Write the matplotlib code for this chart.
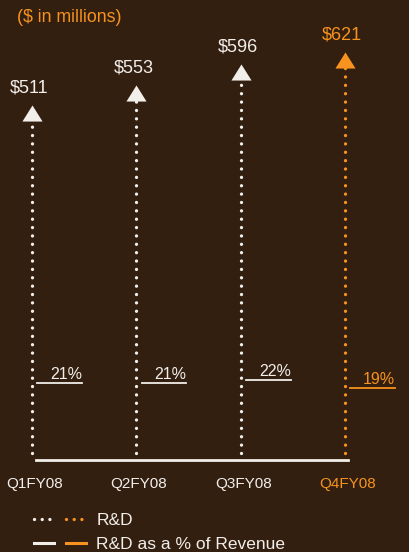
import matplotlib.pyplot as plt
from matplotlib.legend_handler import HandlerTuple
from matplotlib.lines import Line2D

quarters = ['Q1FY08', 'Q2FY08', 'Q3FY08', 'Q4FY08']
rnd = [511, 553, 596, 621]          # R&D, $ millions
pct = [21, 21, 22, 19]              # R&D as % of revenue

bg = '#321f10'
white = '#f2eeea'
orange = '#f7931e'
colors = [white, white, white, orange]

plt.rcParams['font.family'] = ['Liberation Sans', 'DejaVu Sans']

fig = plt.figure(figsize=(4.1, 5.52), dpi=100, facecolor=bg)
W, H = 410, 552
ax = fig.add_axes([36 / W, (H - 460) / H, (348 - 36) / W, (460 - 20) / H])
ax.set_facecolor('none')
ax2 = ax.twinx()

xlim = (0.038, 3.03)
ylim = (-207.6, 704.1)
ax.set_xlim(xlim)
ax.set_ylim(ylim)
ax2.set_ylim(-7.3, 154.5)

for a in (ax, ax2):
    for s in a.spines.values():
        s.set_visible(False)
    a.set_yticks([])
ax.set_xticks([])

ax.spines['bottom'].set_visible(True)
ax.spines['bottom'].set_color(white)
ax.spines['bottom'].set_linewidth(2)

tri = [(0, 0.8), (-1, -0.8), (1, -0.8)]
y0 = ylim[0] + 14
for i, (v, c) in enumerate(zip(rnd, colors)):
    ax.plot([i, i], [y0, v], color=c, lw=2.4, linestyle=(0, (0.01, 2.5)),
            dash_capstyle='round', clip_on=False, zorder=2)
    ax.plot(i, v, marker=tri, ms=14.5, color=c, mec='none', clip_on=False, zorder=3)
    ax.annotate(f'${v}', (i, v), xytext=(-2, 18), textcoords='offset points',
                ha='center', va='center', color=c, fontsize=13,
                annotation_clip=False)

for i, (p, c) in enumerate(zip(pct, colors)):
    ax2.plot([i + 0.05, i + 0.48], [p, p], color=c, lw=1.3, clip_on=False)
    ax2.annotate(f'{p}%', (i + 0.48, p), xytext=(0, 6.5), textcoords='offset points',
                 ha='right', va='center', color=c, fontsize=11.5,
                 annotation_clip=False)

# quarter labels under the baseline
for i, (q, c) in enumerate(zip(quarters, colors)):
    ax.annotate(q, (i, 0), xycoords=('data', 'axes fraction'),
                xytext=(2, -17), textcoords='offset points',
                ha='center', va='center', color=c, fontsize=11,
                annotation_clip=False)

# re-apply limits after all plotting
ax.set_xlim(xlim)
ax.set_ylim(ylim)

fig.text(17 / W, 1 - 17 / H, '($ in millions)', color=orange, fontsize=12.8,
         ha='left', va='center')

dot_kw = dict(lw=2.4, linestyle=(0, (0.01, 2.3)), dash_capstyle='round')
h1 = (Line2D([], [], color=white, **dot_kw), Line2D([], [], color=orange, **dot_kw))
h2 = (Line2D([], [], color=white, lw=2.2), Line2D([], [], color=orange, lw=2.2))
leg = fig.legend([h1, h2], ['R&D', 'R&D as a % of Revenue'],
                 handler_map={tuple: HandlerTuple(ndivide=None, pad=0.7)},
                 loc='upper left', bbox_to_anchor=(25 / W, 1 - 504 / H),
                 frameon=False, fontsize=12.5, handlelength=3.0,
                 handletextpad=0.6, labelspacing=0.5, borderpad=0)
for t in leg.get_texts():
    t.set_color(white)

fig.savefig('out.png', dpi=100, facecolor=bg)
